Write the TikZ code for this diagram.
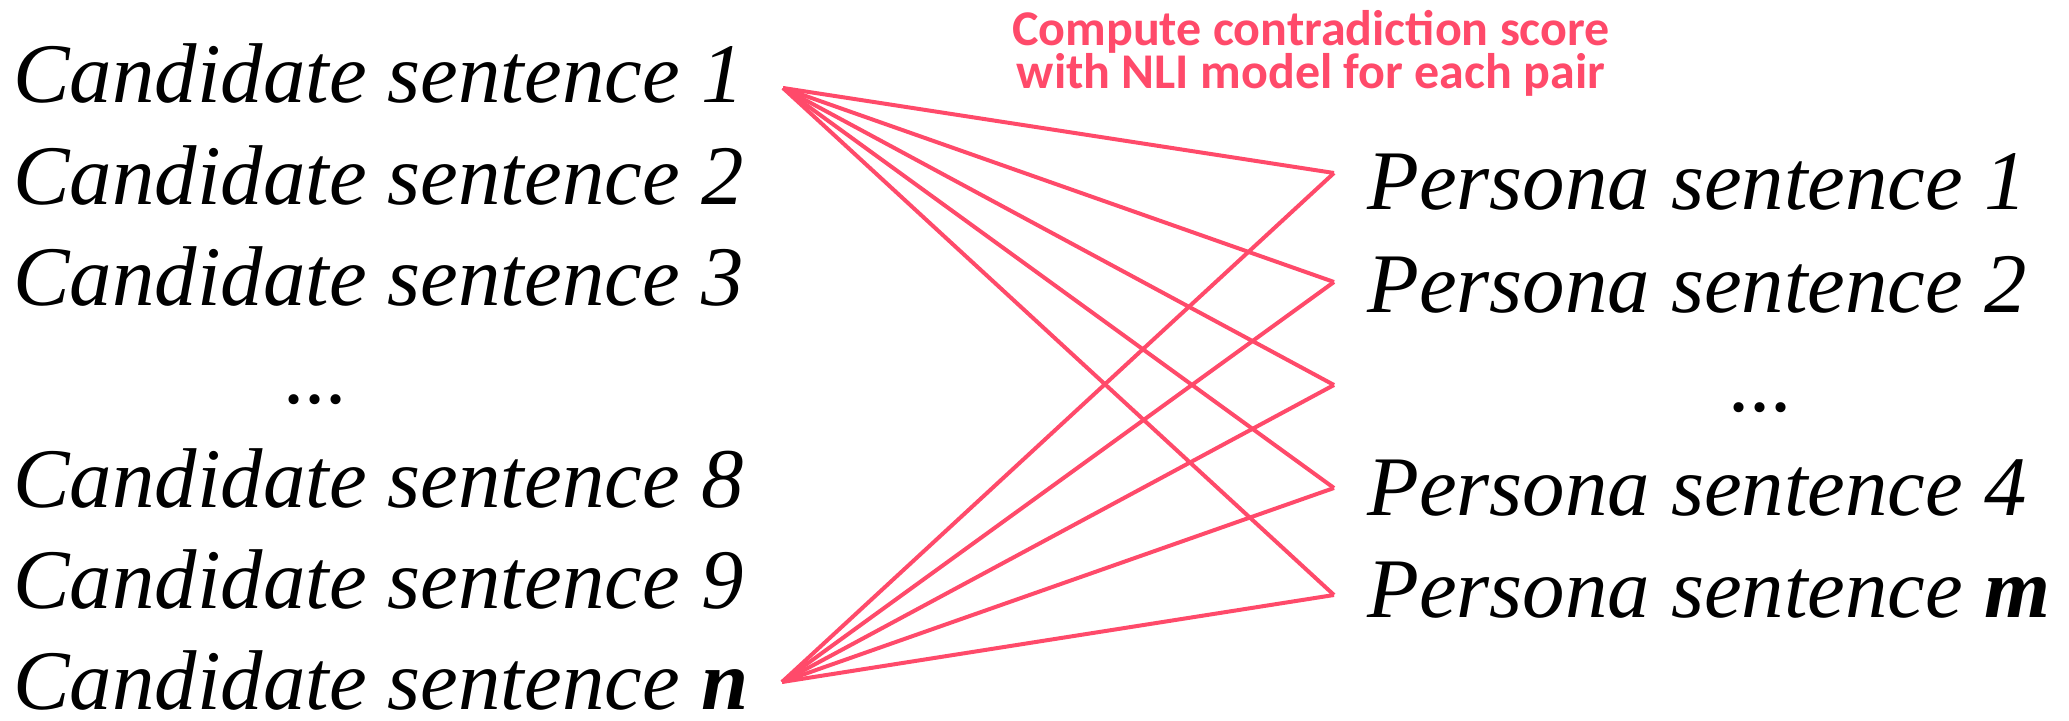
\documentclass[tikz,border=0pt]{standalone}
\usepackage{fontspec}
\setmainfont{Liberation Serif}[
  ItalicFont={Liberation Serif Italic},
  BoldItalicFont={Liberation Serif Bold Italic}]
\newfontfamily\notefont{Carlito}
\definecolor{pairred}{HTML}{FF4A6A}
\tikzset{
  sent/.style={anchor=base west,inner sep=0pt,font=\fontsize{42.4}{50}\selectfont\itshape},
  pairline/.style={draw=pairred,line width=2pt,line join=round},
}
\begin{document}
\begin{tikzpicture}[x=0.5pt,y=-0.5pt]
  \useasboundingbox (0,0) rectangle (2069,721);
  % candidate sentences
  \foreach \id/\lab/\y in {1/1/103,2/2/205,3/3/306,8/8/508,9/9/609,n/{\textbf{n}}/710}
    \node[sent] (cand\id) at (13,\y) {Candidate sentence \lab};
  \node[sent,anchor=base] (canddots) at (317,404) {...};
  % persona sentences
  \foreach \id/\lab/\y in {1/1/210,2/2/313,4/4/516,m/{\textbf{m}}/618}
    \node[sent] (pers\id) at (1367,\y) {Persona sentence \lab};
  \node[sent,anchor=base] (persdots) at (1762,412) {...};
  \node[anchor=north,align=center,inner sep=0pt,text=pairred,
        font=\notefont\bfseries\fontsize{25}{21.5}\selectfont] (note) at (1311,10)
    {Compute contradiction score\\with NLI model for each pair};
  % pair connectors
  \coordinate (ltop) at (783,88);
  \coordinate (lbot) at (782,682);
  \foreach \k/\y in {1/173,2/282,3/385,4/488,5/595}
    \coordinate (r\k) at (1334,\y);
  \foreach \k in {1,...,5} {
    \draw[pairline] (ltop) -- (r\k);
    \draw[pairline] (lbot) -- (r\k);
  }
\end{tikzpicture}
\end{document}
